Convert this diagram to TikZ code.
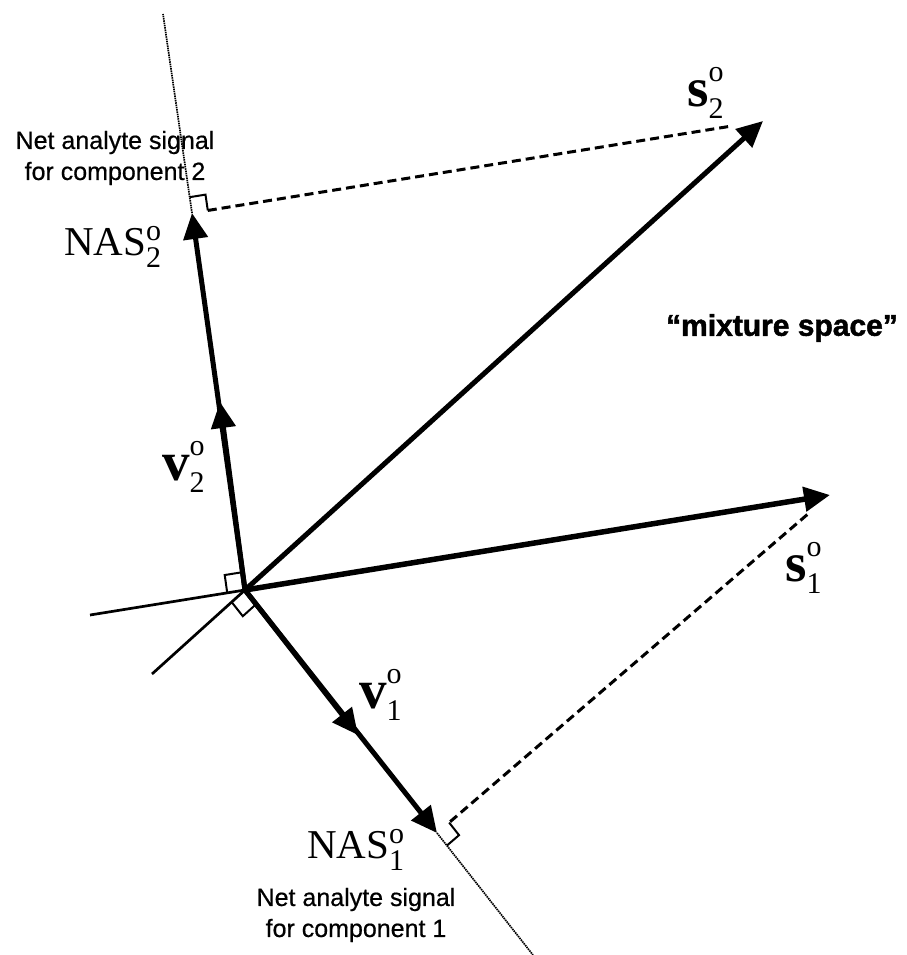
\documentclass[tikz,border=0pt]{standalone}
\usepackage{fontspec}
\setmainfont{Liberation Serif}
\newfontfamily\helv[FakeBold=0.6]{Liberation Sans}
\newfontfamily\heavy[FakeBold=1.6]{Liberation Sans Bold}
\usetikzlibrary{arrows.meta,calc}
\newcommand{\smallfs}{\fontsize{30}{30}\selectfont}
\newcommand{\veclab}[3]{\fontsize{55}{55}\selectfont\textbf{#1}\rlap{\raisebox{25pt}{\smallfs #2}}\raisebox{-12pt}{\smallfs #3}}
\newcommand{\naslab}[1]{\fontsize{41}{41}\selectfont NAS\rlap{\raisebox{15pt}{\smallfs o}}\raisebox{-12pt}{\smallfs #1}}
\begin{document}
\begin{tikzpicture}[x=1pt,y=-1pt,
  vecarrow/.style={line width=5pt,-{Triangle[length=26pt,width=24pt]}},
  thinline/.style={line width=2.7pt},
  dotline/.style={line width=1.7pt,dash pattern=on 1.5pt off 0.8pt},
  dashline/.style={line width=3pt,dash pattern=on 9pt off 5pt},
  rbox/.style={line width=2pt},
  lab/.style={inner sep=0pt,anchor=base west},
  note/.style={inner sep=0pt,align=center,font=\helv\fontsize{25}{31}\selectfont}]
\useasboundingbox (0,0) rectangle (906,955);
% points
\coordinate (O) at (245,590);
\coordinate (S1) at (830,495);
\coordinate (S2) at (763,121);
\coordinate (N1) at (437,833);
\coordinate (N2) at (192,213);
\coordinate (V1) at (358,735);
\coordinate (V2) at (220,402);
\coordinate (T) at (163,14);
\coordinate (B) at (533,955);
\coordinate (L1) at (90,615);
\coordinate (L2) at (152,674);
% axis extensions
\draw[dotline] (N2) -- (T);
\draw[dotline] (N1) -- (B);
\draw[thinline] (L1) -- (O);
\draw[thinline] (L2) -- (O);
% dashed projections
\draw[dashline,shorten >=32pt,shorten <=16pt] (N2) -- (S2);
\draw[dashline,shorten <=30pt,shorten >=16pt] (S1) -- (N1);
% right-angle marks
\coordinate (a1) at ($(N2)!16pt!(T)$);
\coordinate (c1) at ($(N2)!16pt!(S2)$);
\draw[rbox] (a1) -- ($(a1)+(c1)-(N2)$) -- (c1);
\coordinate (a2) at ($(N1)!16pt!(B)$);
\coordinate (c2) at ($(N1)!16pt!(S1)$);
\draw[rbox] (a2) -- ($(a2)+(c2)-(N1)$) -- (c2);
\coordinate (a3) at ($(O)!18pt!(N2)$);
\coordinate (c3) at ($(O)!18pt!(L1)$);
\draw[rbox] (a3) -- ($(a3)+(c3)-(O)$) -- (c3);
\coordinate (a4) at ($(O)!18pt!(L2)$);
\coordinate (c4) at ($(O)!18pt!(N1)$);
\draw[rbox] (a4) -- ($(a4)+(c4)-(O)$) -- (c4);
% vectors
\draw[vecarrow,line width=5.5pt] (O) -- (S1);
\draw[vecarrow] (O) -- (S2);
\draw[vecarrow] (O) -- (N2);
\draw[vecarrow] (O) -- (V2);
\draw[vecarrow] (O) -- (N1);
\draw[vecarrow] (O) -- (V1);
% labels
\node[lab] (ls2) at (687,107) {\veclab{s}{o}{2}};
\node[lab] (ls1) at (785,581) {\veclab{s}{o}{1}};
\node[lab] (lv2) at (162,480) {\veclab{v}{o}{2}};
\node[lab] (lv1) at (359,708) {\veclab{v}{o}{1}};
\node[lab] (ln2) at (64,255) {\naslab{2}};
\node[lab] (ln1) at (307,858) {\naslab{1}};
\node[note] (t2) at (115,158) {Net analyte signal\\for component 2};
\node[note] (t1) at (356,915) {Net analyte signal\\for component 1};
\node[inner sep=0pt,font=\heavy\fontsize{30}{36}\selectfont] (mix) at (782,328) {“mixture space”};
\end{tikzpicture}
\end{document}
